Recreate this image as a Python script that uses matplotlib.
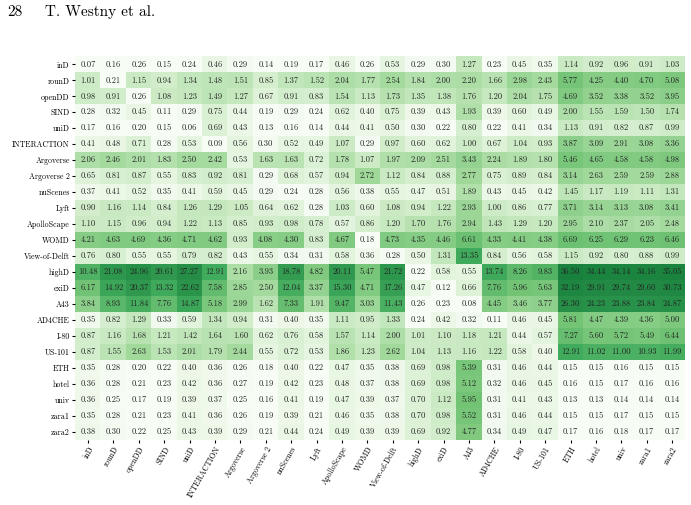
import numpy as np
import matplotlib
matplotlib.use("Agg")
from matplotlib import pyplot as plt
from matplotlib.colors import LogNorm

plt.rcParams['font.family'] = ['cmr10', 'DejaVu Serif']

datasets = ['inD', 'rounD', 'openDD', 'SIND', 'uniD', 'INTERACTION', 'Argoverse',
            'Argoverse 2', 'nuScenes', 'Lyft', 'ApolloScape', 'WOMD', 'View-of-Delft',
            'highD', 'exiD', 'A43', 'AD4CHE', 'I-80', 'US-101', 'ETH', 'hotel',
            'univ', 'zara1', 'zara2']

# rows: trained on, columns: tested on
vals = [
    [0.07, 0.16, 0.26, 0.15, 0.24, 0.46, 0.29, 0.14, 0.19, 0.17, 0.46, 0.26, 0.53, 0.29, 0.30, 1.27, 0.23, 0.45, 0.35, 1.14, 0.92, 0.96, 0.91, 1.03],
    [1.01, 0.21, 1.15, 0.94, 1.34, 1.48, 1.51, 0.85, 1.37, 1.52, 2.04, 1.77, 2.54, 1.84, 2.00, 2.20, 1.66, 2.98, 2.43, 5.77, 4.25, 4.40, 4.70, 5.08],
    [0.98, 0.91, 0.26, 1.08, 1.23, 1.49, 1.27, 0.67, 0.91, 0.83, 1.54, 1.13, 1.73, 1.35, 1.38, 1.76, 1.20, 2.04, 1.75, 4.69, 3.52, 3.38, 3.52, 3.95],
    [0.28, 0.32, 0.45, 0.11, 0.29, 0.75, 0.44, 0.19, 0.29, 0.24, 0.62, 0.40, 0.75, 0.39, 0.43, 1.93, 0.39, 0.60, 0.49, 2.00, 1.55, 1.59, 1.50, 1.74],
    [0.17, 0.16, 0.20, 0.15, 0.06, 0.69, 0.43, 0.13, 0.16, 0.14, 0.44, 0.41, 0.50, 0.30, 0.22, 0.80, 0.22, 0.41, 0.34, 1.13, 0.91, 0.82, 0.87, 0.99],
    [0.41, 0.48, 0.71, 0.28, 0.53, 0.09, 0.56, 0.30, 0.52, 0.49, 1.07, 0.29, 0.97, 0.60, 0.62, 1.00, 0.67, 1.04, 0.93, 3.87, 3.09, 2.91, 3.08, 3.36],
    [2.06, 2.46, 2.01, 1.83, 2.50, 2.42, 0.53, 1.63, 1.63, 0.72, 1.78, 1.07, 1.97, 2.09, 2.51, 3.43, 2.24, 1.89, 1.80, 5.46, 4.65, 4.58, 4.58, 4.98],
    [0.65, 0.81, 0.87, 0.55, 0.83, 0.92, 0.81, 0.29, 0.68, 0.57, 0.94, 2.72, 1.12, 0.84, 0.88, 2.77, 0.75, 0.89, 0.84, 3.14, 2.63, 2.59, 2.59, 2.88],
    [0.37, 0.41, 0.52, 0.35, 0.41, 0.59, 0.45, 0.29, 0.24, 0.28, 0.56, 0.38, 0.55, 0.47, 0.51, 1.89, 0.43, 0.45, 0.42, 1.45, 1.17, 1.19, 1.11, 1.31],
    [0.90, 1.16, 1.14, 0.84, 1.26, 1.29, 1.05, 0.64, 0.62, 0.28, 1.03, 0.60, 1.08, 0.94, 1.22, 2.93, 1.00, 0.86, 0.77, 3.71, 3.14, 3.13, 3.08, 3.41],
    [1.10, 1.15, 0.96, 0.94, 1.22, 1.13, 0.85, 0.93, 0.98, 0.78, 0.57, 0.86, 1.20, 1.70, 1.76, 2.94, 1.43, 1.29, 1.20, 2.95, 2.10, 2.37, 2.05, 2.48],
    [4.21, 4.63, 4.69, 4.36, 4.71, 4.62, 0.93, 4.08, 4.30, 0.83, 4.67, 0.18, 4.73, 4.35, 4.46, 6.61, 4.33, 4.41, 4.38, 6.69, 6.25, 6.29, 6.23, 6.46],
    [0.76, 0.80, 0.55, 0.55, 0.79, 0.82, 0.43, 0.55, 0.34, 0.31, 0.58, 0.36, 0.28, 0.50, 1.31, 13.35, 0.84, 0.56, 0.58, 1.15, 0.92, 0.80, 0.88, 0.99],
    [10.48, 21.08, 24.96, 20.61, 27.27, 12.91, 2.16, 3.93, 18.78, 4.82, 20.11, 5.47, 21.72, 0.22, 0.58, 0.55, 13.74, 8.26, 9.83, 36.50, 34.44, 34.14, 34.16, 35.05],
    [6.17, 14.92, 20.37, 13.32, 22.62, 7.58, 2.85, 2.50, 12.04, 3.37, 15.30, 4.71, 17.26, 0.47, 0.12, 0.66, 7.76, 5.96, 5.63, 32.19, 29.91, 29.74, 29.60, 30.73],
    [3.84, 8.93, 11.84, 7.76, 14.87, 5.18, 2.99, 1.62, 7.33, 1.91, 9.47, 3.03, 11.43, 0.26, 0.23, 0.08, 4.45, 3.46, 3.77, 26.30, 24.23, 23.88, 23.84, 24.87],
    [0.35, 0.82, 1.29, 0.33, 0.59, 1.34, 0.94, 0.31, 0.40, 0.35, 1.11, 0.95, 1.33, 0.24, 0.42, 0.32, 0.11, 0.46, 0.45, 5.81, 4.47, 4.39, 4.36, 5.00],
    [0.87, 1.16, 1.68, 1.21, 1.42, 1.64, 1.60, 0.62, 0.76, 0.58, 1.57, 1.14, 2.00, 1.01, 1.10, 1.18, 1.21, 0.44, 0.57, 7.27, 5.60, 5.72, 5.49, 6.44],
    [0.87, 1.55, 2.63, 1.53, 2.01, 1.79, 2.44, 0.55, 0.72, 0.53, 1.86, 1.23, 2.62, 1.04, 1.13, 1.16, 1.22, 0.58, 0.40, 12.91, 11.02, 11.00, 10.93, 11.99],
    [0.35, 0.28, 0.20, 0.22, 0.40, 0.36, 0.26, 0.18, 0.40, 0.22, 0.47, 0.35, 0.38, 0.69, 0.98, 5.39, 0.31, 0.46, 0.44, 0.15, 0.15, 0.16, 0.15, 0.15],
    [0.36, 0.28, 0.21, 0.23, 0.42, 0.36, 0.27, 0.19, 0.42, 0.23, 0.48, 0.37, 0.38, 0.69, 0.98, 5.12, 0.32, 0.46, 0.45, 0.16, 0.15, 0.17, 0.16, 0.16],
    [0.36, 0.25, 0.17, 0.19, 0.39, 0.37, 0.25, 0.16, 0.41, 0.19, 0.47, 0.39, 0.37, 0.70, 1.12, 5.95, 0.31, 0.41, 0.43, 0.13, 0.13, 0.14, 0.14, 0.14],
    [0.35, 0.28, 0.21, 0.23, 0.41, 0.36, 0.26, 0.19, 0.39, 0.21, 0.46, 0.35, 0.38, 0.70, 0.98, 5.52, 0.31, 0.46, 0.44, 0.15, 0.15, 0.17, 0.15, 0.15],
    [0.38, 0.30, 0.22, 0.25, 0.43, 0.39, 0.29, 0.21, 0.44, 0.24, 0.49, 0.39, 0.39, 0.69, 0.92, 4.77, 0.34, 0.49, 0.47, 0.17, 0.16, 0.18, 0.17, 0.17],
]

data = np.array(vals)
n = len(datasets)

fig = plt.figure(figsize=(6.91, 5.05), dpi=100)
ax = fig.add_axes([0.109, 0.1295, 0.882, 0.7588])

ax.imshow(data, cmap='Greens', norm=LogNorm(vmin=0.25, vmax=140),
          aspect='auto', interpolation='nearest')

for i in range(n):
    for j in range(n):
        ax.text(j, i, f'{data[i, j]:.2f}', ha='center', va='center',
                fontsize=6.1, color='#222222')

ax.set_xticks(np.arange(n))
ax.set_yticks(np.arange(n))
ax.set_xticklabels(datasets, rotation=60, ha='right', rotation_mode='anchor')
ax.set_yticklabels(datasets)
ax.tick_params(axis='both', labelsize=5.7, length=2.5, width=0.8, pad=1.5)
for s in ax.spines.values():
    s.set_visible(False)

# page header
fig.text(7 / 691, 1 - 12 / 505, '28', fontsize=11, va='center', ha='left')
fig.text(45 / 691, 1 - 12 / 505, 'T. Westny et al.', fontsize=11, va='center', ha='left')

fig.savefig('out.png', dpi=100)
plt.close('all')
